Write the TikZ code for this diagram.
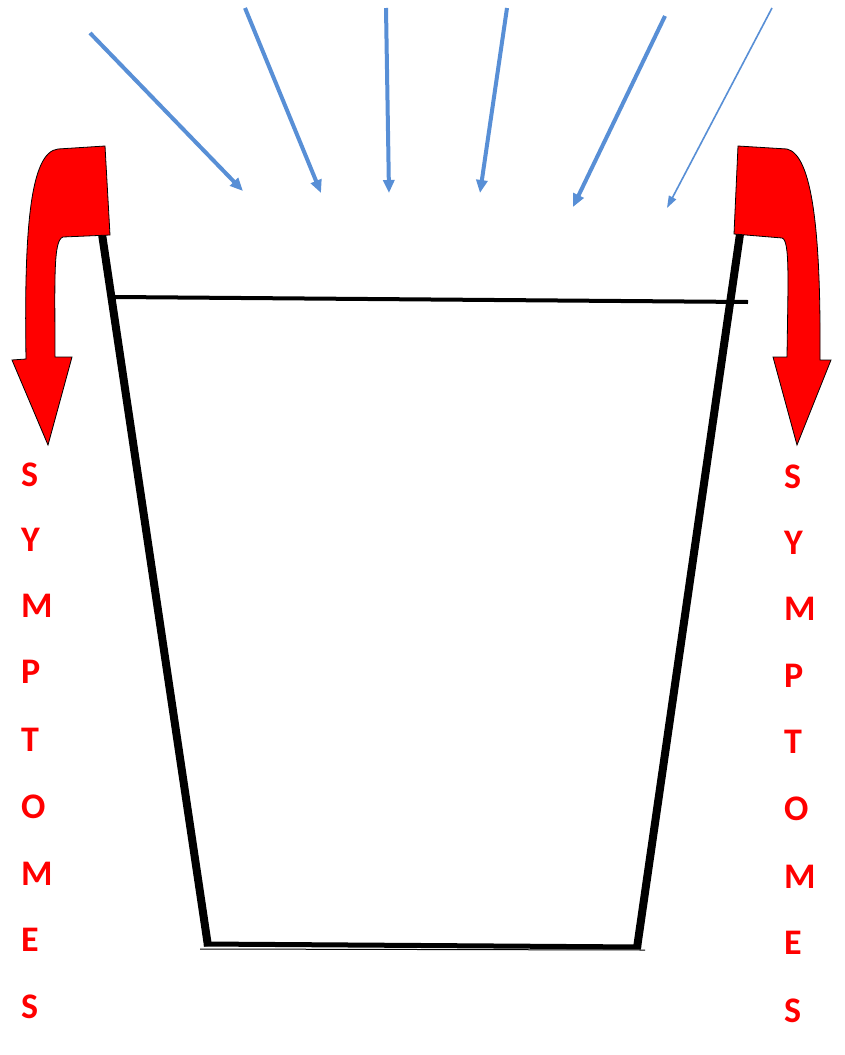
\documentclass[tikz,border=0pt]{standalone}
\usepackage{fontspec}
\setmainfont{Carlito}
\usetikzlibrary{arrows.meta}
\definecolor{rainblue}{RGB}{88,143,214}
\definecolor{symred}{RGB}{255,0,0}
\tikzset{
  rain/.style={draw=rainblue, line width=4pt, -{Triangle[length=13pt,width=11pt]}},
  thinrain/.style={draw=rainblue, line width=1.6pt, -{Triangle[length=12pt,width=8pt]}},
  wall/.style={line width=8pt, line cap=butt},
  rim/.style={line width=4pt},
  redbend/.style={fill=symred, draw=black, line width=0.8pt, line join=miter},
  letter/.style={anchor=west, inner sep=0pt, text=symred, font=\fontsize{36}{36}\selectfont\bfseries}
}
\begin{document}
\begin{tikzpicture}[x=1pt,y=-1pt]
\useasboundingbox (0,0) rectangle (845,1055);
\fill[white] (0,0) rectangle (845,1055);

% bucket
\coordinate (lt) at (102,234);
\coordinate (lb) at (208,946);
\coordinate (rt) at (740,234);
\coordinate (rb) at (637,948);
\draw[wall] (lt) -- (lb);
\draw[wall] (rt) -- (rb);
\coordinate (bl) at (204,944);
\coordinate (br) at (641,947);
\draw[line width=5pt] (bl) -- (br);
\coordinate (bl2) at (200,949);
\coordinate (br2) at (645,950);
\draw[line width=1pt] (bl2) -- (br2);
\coordinate (rl) at (115,297);
\coordinate (rr) at (748,302);
\draw[rim] (rl) -- (rr);

% blue arrows
\coordinate (a1s) at (90,33);  \coordinate (a1e) at (243,191);
\coordinate (a2s) at (245,8);  \coordinate (a2e) at (321,193);
\coordinate (a3s) at (386,8);  \coordinate (a3e) at (389,193);
\coordinate (a4s) at (507,8);  \coordinate (a4e) at (480,193);
\coordinate (a5s) at (665,16); \coordinate (a5e) at (573,207);
\coordinate (a6s) at (772,8);  \coordinate (a6e) at (667,208);
\draw[rain] (a1s) -- (a1e);
\draw[rain] (a2s) -- (a2e);
\draw[rain] (a3s) -- (a3e);
\draw[rain] (a4s) -- (a4e);
\draw[rain] (a5s) -- (a5e);
\draw[thinrain] (a6s) -- (a6e);

% red curved arrows
\draw[redbend] (105,146) -- (110,235) -- (63,237)
  .. controls (53,240) and (55,280) .. (55,357)
  -- (72,357) -- (48,445) -- (12,360) -- (26,359)
  .. controls (24,230) and (30,152) .. (58,149) -- cycle;
\draw[redbend] (738,146) -- (787,149)
  .. controls (812,155) and (821,230) .. (820,360)
  -- (831,360) -- (797,445) -- (773,357) -- (787,357)
  .. controls (788,280) and (790,240) .. (782,238)
  -- (734,234) -- cycle;

% SYMPTOMES
\foreach \ch/\y [count=\i] in {S/475,Y/540,M/606,P/672,T/740,O/807,M/874,E/940,S/1007}{
  \node[letter] (l\i) at (21,\y) {\ch};
}
\foreach \ch/\y [count=\i] in {S/477,Y/543,M/609,P/676,T/742,O/809,M/877,E/943,S/1011}{
  \node[letter] (r\i) at (784,\y) {\ch};
}
\end{tikzpicture}
\end{document}
